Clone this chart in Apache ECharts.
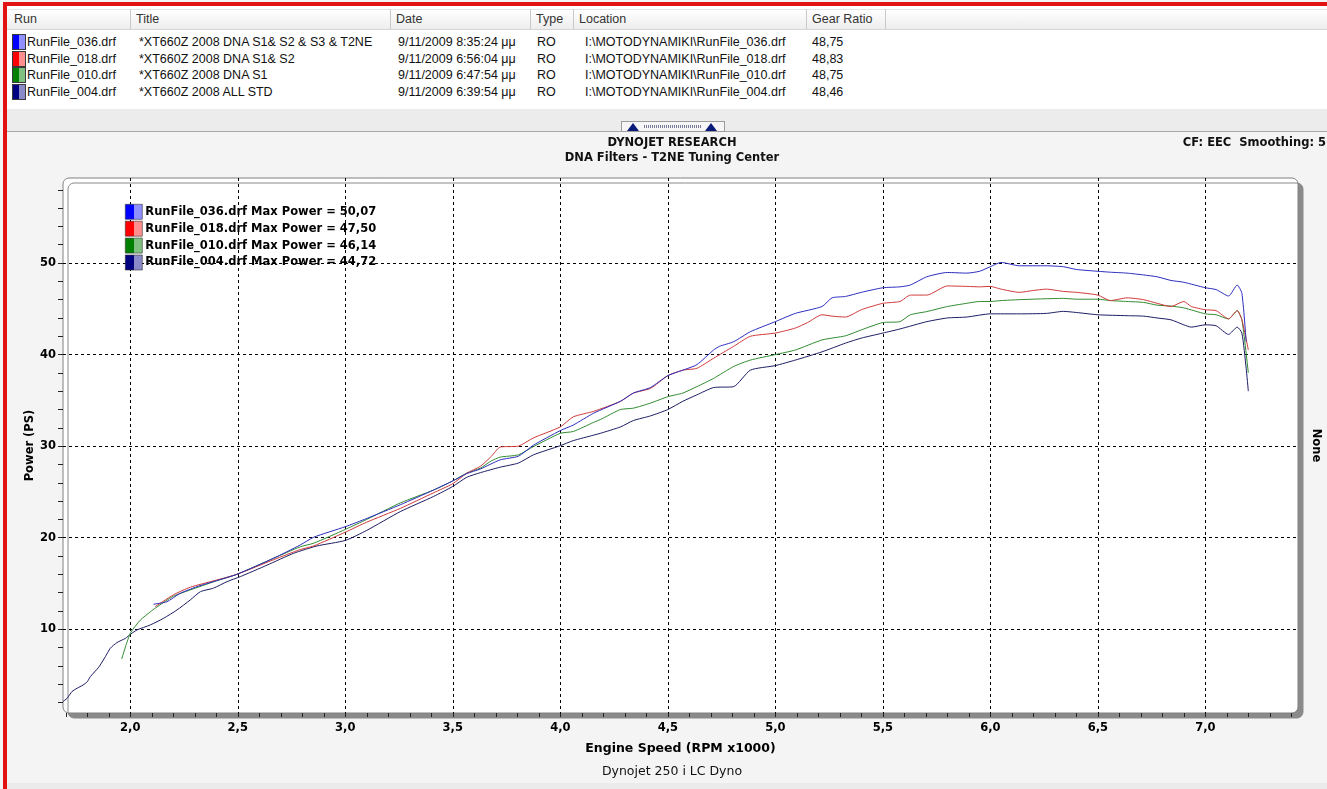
<!DOCTYPE html>
<html><head><meta charset="utf-8">
<script src="https://cdn.jsdelivr.net/npm/echarts@6/dist/echarts.min.js"></script>
<style>
html,body{margin:0;padding:0;width:1327px;height:789px;overflow:hidden;background:#f4f4f4;font-family:"Liberation Sans",Arial,sans-serif;}
.abs{position:absolute;}
#redtop{left:3px;top:2px;width:1324px;height:4px;background:#e31212;}
#redleft{left:3px;top:2px;width:4px;height:787px;background:#e31212;}
#tablebg{left:7px;top:6px;width:1320px;height:103px;background:#fff;}
#hdr{left:7px;top:9px;width:1320px;height:19px;background:linear-gradient(#ffffff,#ededed);border-bottom:1px solid #d6d6d6;border-top:1px solid #e4e4e4;}
.hc{top:9px;height:20px;border-right:1px solid #c9c9c9;font-size:12.5px;line-height:20px;color:#333;padding-left:5px;box-sizing:border-box;}
.cell{font-size:12.5px;line-height:16px;height:16px;color:#111;white-space:nowrap;}
.sw{width:12px;height:14px;border:1px solid #3a3a3a;}
#band{left:7px;top:109px;width:1320px;height:22px;background:#ececec;}
#bline{left:7px;top:131px;width:1320px;height:1px;background:#a9a9a9;}
#btn{left:621px;top:121px;width:102px;height:9px;background:#f6f6f6;border:1px solid #9c9c9c;}
.tri{width:0;height:0;border-left:6px solid transparent;border-right:6px solid transparent;border-bottom:8px solid #0a1a78;top:1px;}
#dots{left:22px;top:3px;width:58px;height:3px;background:repeating-linear-gradient(90deg,#7a7a9a 0 1px,transparent 1px 2px);}
#bottomstrip{left:7px;top:783px;width:1320px;height:6px;background:#ebebeb;}
#chart{left:0;top:0;width:1327px;height:789px;}
</style>
</head><body>
<div id="tablebg" class="abs"></div>
<div id="hdr" class="abs"></div>
<div id="headers"></div>
<div id="rows"></div>
<div id="band" class="abs"></div>
<div id="bline" class="abs"></div>
<div id="btn" class="abs"><div class="abs tri" style="left:5px"></div><div id="dots" class="abs"></div><div class="abs tri" style="left:83px"></div></div>
<div id="bottomstrip" class="abs"></div>
<div id="redtop" class="abs"></div>
<div id="redleft" class="abs"></div>
<div id="chart" class="abs"></div>
<script>
// ---- table content ----
var colHeaders = ['Run','Title','Date','Type','Location','Gear Ratio'];
var runNames = ['RunFile_036.drf','RunFile_018.drf','RunFile_010.drf','RunFile_004.drf'];
var runTitles = ['*XT660Z 2008 DNA S1& S2 & S3 & T2NE','*XT660Z 2008 DNA S1& S2','*XT660Z 2008 DNA S1','*XT660Z 2008 ALL STD'];
var runDates = ['9/11/2009 8:35:24 μμ','9/11/2009 6:56:04 μμ','9/11/2009 6:47:54 μμ','9/11/2009 6:39:54 μμ'];
var runTypes = ['RO','RO','RO','RO'];
var runLocations = ['I:\\MOTODYNAMIKI\\RunFile_036.drf','I:\\MOTODYNAMIKI\\RunFile_018.drf','I:\\MOTODYNAMIKI\\RunFile_010.drf','I:\\MOTODYNAMIKI\\RunFile_004.drf'];
var gearRatios = ['48,75','48,83','48,75','48,46'];
var maxPower = [50.07, 47.50, 46.14, 44.72];

// ---- curve data (RPM x1000, PS) ----
var rpm036 = [2.108,2.17,2.23,2.31,2.40,2.496,2.667,2.79,2.853,3.0,3.1,3.256,3.41,3.5,3.565,3.628,3.72,3.805,3.875,4.0,4.06,4.155,4.28,4.34,4.419,4.5,4.57,4.635,4.713,4.74,4.806,4.884,5.0,5.093,5.217,5.264,5.326,5.4,5.5,5.58,5.628,5.705,5.8,5.89,5.95,6.0,6.05,6.135,6.26,6.34,6.4,6.5,6.558,6.636,6.713,6.776,6.84,6.9,7.0,7.05,7.108,7.148,7.17,7.19];
var ps036  = [12.73,13.0,13.9,14.65,15.3,16.0,17.76,19.2,20.05,21.2,22.1,23.6,25.2,26.2,27.0,27.5,28.5,28.9,30.1,31.7,32.3,33.6,34.9,35.8,36.4,37.7,38.3,38.9,40.5,40.9,41.4,42.5,43.6,44.5,45.25,46.2,46.35,46.8,47.3,47.4,47.6,48.5,48.97,48.9,49.1,49.6,50.07,49.7,49.7,49.6,49.3,49.1,49.0,48.9,48.7,48.5,48.1,47.9,47.3,47.1,46.4,47.6,46.7,41.4];

var rpm018 = [2.116,2.2,2.28,2.39,2.496,2.667,2.79,2.853,3.0,3.1,3.256,3.41,3.5,3.565,3.628,3.68,3.72,3.805,3.875,4.0,4.06,4.155,4.28,4.34,4.419,4.5,4.57,4.635,4.713,4.806,4.884,5.0,5.093,5.15,5.217,5.264,5.326,5.4,5.5,5.58,5.628,5.705,5.8,5.89,5.95,6.0,6.05,6.135,6.2,6.26,6.34,6.4,6.5,6.558,6.636,6.713,6.776,6.84,6.9,6.935,7.0,7.05,7.108,7.148,7.17,7.2];
var ps018  = [12.47,13.75,14.6,15.3,16.0,17.6,18.7,19.1,20.6,21.7,23.2,24.9,25.9,27.05,27.8,28.9,29.9,30.0,30.9,32.1,33.2,33.8,34.9,35.8,36.3,37.7,38.3,38.5,39.6,40.9,42.0,42.35,42.9,43.5,44.35,44.2,44.1,44.9,45.6,45.8,46.5,46.5,47.5,47.45,47.4,47.45,47.15,46.8,47.0,47.15,46.9,46.8,46.5,45.9,46.2,46.0,45.6,45.25,45.8,45.25,44.9,44.8,43.9,44.8,43.8,40.5];

var rpm010 = [1.96,2.0,2.047,2.093,2.116,2.2,2.28,2.39,2.496,2.667,2.79,2.853,3.0,3.1,3.256,3.41,3.5,3.565,3.628,3.68,3.72,3.805,3.875,4.0,4.06,4.155,4.186,4.28,4.34,4.419,4.5,4.57,4.635,4.713,4.806,4.884,5.0,5.093,5.217,5.326,5.4,5.5,5.58,5.628,5.705,5.8,5.89,5.95,6.0,6.05,6.135,6.26,6.34,6.4,6.5,6.558,6.636,6.713,6.776,6.84,6.9,7.0,7.05,7.108,7.148,7.17,7.2];
var ps010  = [6.75,9.56,11.0,11.9,12.3,13.6,14.3,15.2,16.0,17.76,19.0,19.4,20.9,22.0,23.8,25.2,26.2,27.05,27.6,28.4,28.8,29.05,29.95,31.4,31.6,32.6,32.9,34.0,34.15,34.7,35.4,35.8,36.5,37.4,38.7,39.4,40.0,40.5,41.6,42.05,42.7,43.5,43.6,44.35,44.7,45.25,45.6,45.8,45.8,45.9,46.0,46.1,46.14,46.05,46.05,45.9,45.8,45.7,45.4,45.3,45.1,44.45,44.35,43.9,44.8,43.8,38.0];

var rpm004 = [1.687,1.706,1.729,1.752,1.78,1.80,1.814,1.853,1.884,1.907,1.938,1.977,2.003,2.031,2.093,2.155,2.217,2.279,2.326,2.388,2.45,2.512,2.636,2.76,2.869,3.0,3.1,3.256,3.41,3.5,3.565,3.628,3.72,3.805,3.875,4.0,4.06,4.155,4.186,4.28,4.34,4.419,4.5,4.57,4.635,4.713,4.806,4.884,5.0,5.093,5.217,5.326,5.4,5.5,5.58,5.705,5.8,5.89,6.0,6.135,6.26,6.34,6.4,6.5,6.636,6.713,6.776,6.84,6.9,6.935,7.0,7.05,7.108,7.148,7.17,7.19,7.2];
var ps004  = [2.1,2.46,3.2,3.55,3.9,4.27,4.82,5.85,7.0,7.92,8.54,9.0,9.49,9.92,10.47,11.2,12.1,13.2,14.1,14.5,15.2,15.75,17.0,18.3,19.1,19.7,20.8,22.85,24.5,25.6,26.6,27.1,27.7,28.15,29.05,30.05,30.6,31.2,31.4,32.1,32.8,33.3,34.0,34.9,35.6,36.4,36.5,38.3,38.8,39.4,40.3,41.25,41.8,42.35,42.8,43.6,44.0,44.1,44.45,44.45,44.5,44.72,44.6,44.35,44.25,44.2,44.0,43.8,43.25,43.0,43.25,43.15,42.2,43.0,42.35,38.5,36.0];

// ---- axis ticks ----
var xLabelValues = [2.0,2.5,3.0,3.5,4.0,4.5,5.0,5.5,6.0,6.5,7.0];
var xMinorTicks = [1.7,1.8,1.9,2.0,2.1,2.2,2.3,2.4,2.5,2.6,2.7,2.8,2.9,3.0,3.1,3.2,3.3,3.4,3.5,3.6,3.7,3.8,3.9,4.0,4.1,4.2,4.3,4.4,4.5,4.6,4.7,4.8,4.9,5.0,5.1,5.2,5.3,5.4,5.5,5.6,5.7,5.8,5.9,6.0,6.1,6.2,6.3,6.4,6.5,6.6,6.7,6.8,6.9,7.0,7.1,7.2,7.3,7.4];
var yLabelValues = [10,20,30,40,50];
var yMinorTicks = [2,4,6,8,10,12,14,16,18,20,22,24,26,28,30,32,34,36,38,40,42,44,46,48,50,52,54,56,58];

// ---- build table ----
var colLeft = [9,131,391,531,574,807];
var colRight = [131,391,531,574,807,886];
var hh = '';
for (var i=0;i<colHeaders.length;i++){
  hh += '<div class="abs hc" style="left:'+colLeft[i]+'px;width:'+(colRight[i]-colLeft[i])+'px">'+colHeaders[i]+'</div>';
}
document.getElementById('headers').innerHTML = hh;
var swatchDark = ['#0000ff','#ff0000','#008000','#000080'];
var swatchLight = ['#8f8fff','#ff8f8f','#80c080','#8a8ac8'];
var rowCenters = [42,58.5,75,91.5];
var rh = '';
function esc(s){return s.replace(/&/g,'&amp;').replace(/</g,'&lt;');}
var cellLefts = [27,139,398,537,585,812];
for (var r=0;r<4;r++){
  var rowTop = rowCenters[r]-8;
  rh += '<div class="abs sw" style="left:12px;top:'+rowTop+'px;background:linear-gradient(90deg,'+swatchDark[r]+' 0 50%,'+swatchLight[r]+' 50% 100%)"></div>';
  var vals = [runNames[r],runTitles[r],runDates[r],runTypes[r],runLocations[r],gearRatios[r]];
  for (var c=0;c<vals.length;c++){
    rh += '<div class="abs cell" style="left:'+cellLefts[c]+'px;top:'+rowTop+'px">'+esc(vals[c])+'</div>';
  }
}
document.getElementById('rows').innerHTML = rh;

// ---- chart ----
function zip(a,b){var o=[];for(var i=0;i<a.length;i++)o.push([a[i],b[i]]);return o;}
var lineColors = ['#2c2cc0','#d03a3a','#2f8c2f','#1c1c64'];
var seriesX = [rpm036,rpm018,rpm010,rpm004];
var seriesY = [ps036,ps018,ps010,ps004];
var font = '"DejaVu Sans", Verdana, sans-serif';
function grad(d,l){
  return new echarts.graphic.LinearGradient(0,0,1,0,[{offset:0,color:d},{offset:0.5,color:d},{offset:0.5,color:l},{offset:1,color:l}]);
}
var series = [];
var legendData = [];
for (var s=0;s<4;s++){
  series.push({
    name: runNames[s], type:'line', xAxisIndex:0, yAxisIndex:0,
    data: zip(seriesX[s],seriesY[s]), showSymbol:false, symbol:'none', smooth:0.2,
    lineStyle:{color:lineColors[s],width:1}, itemStyle:{color:lineColors[s]}, z: 5-s
  });
  legendData.push({name:runNames[s], icon:'rect', itemStyle:{color:grad(swatchDark[s],swatchLight[s]), borderColor:'#333', borderWidth:0.6}});
}
var GL=63, GT=178, GR=1298, GB=713;
var chart = echarts.init(document.getElementById('chart'), null, {renderer:'canvas'});
chart.setOption({
  backgroundColor:'transparent',
  animation:false,
  grid:{left:GL, top:GT, width:GR-GL, height:GB-GT, show:false, containLabel:false, outerBoundsMode:'none'},
  graphic:[
    {type:'rect', z:-10, shape:{x:GL, y:GT, width:GR-GL, height:GB-GT, r:6},
     style:{fill:'#ffffff', stroke:'#808080', lineWidth:1, shadowColor:'#8a8a8a', shadowOffsetX:5, shadowOffsetY:5, shadowBlur:0}},
    {type:'text', x:672, y:143, style:{text:'DYNOJET RESEARCH', font:'bold 11.5px '+font, fill:'#111', align:'center', verticalAlign:'middle', textAlign:'center', textVerticalAlign:'middle'}},
    {type:'text', x:672, y:158, style:{text:'DNA Filters - T2NE Tuning Center', font:'bold 11.5px '+font, fill:'#111', align:'center', verticalAlign:'middle', textAlign:'center', textVerticalAlign:'middle'}},
    {type:'text', x:1326, y:143, style:{text:'CF: EEC  Smoothing: 5', font:'bold 11.5px '+font, fill:'#111', align:'right', verticalAlign:'middle', textAlign:'right', textVerticalAlign:'middle'}},
    {type:'text', x:672, y:772, style:{text:'Dynojet 250 i LC Dyno', font:'12.5px '+font, fill:'#111', align:'center', verticalAlign:'middle', textAlign:'center', textVerticalAlign:'middle'}}
  ],
  legend:{
    show:true, orient:'vertical', left:125, top:204, padding:0,
    itemWidth:17, itemHeight:15, itemGap:1.3, selectedMode:false,
    data:legendData,
    formatter:function(n){var i=runNames.indexOf(n);return n+' Max Power = '+maxPower[i].toFixed(2).replace('.',',');},
    textStyle:{color:'#000', fontWeight:'bold', fontSize:11.5, fontFamily:font, padding:[0,0,0,-2]}
  },
  xAxis:[
    {type:'value', gridIndex:0, position:'bottom', min:1.687, max:7.431,
     name:'Engine Speed (RPM x1000)', nameLocation:'middle', nameGap:29, nameMoveOverlap:false,
     nameTextStyle:{color:'#000', fontWeight:'bold', fontSize:12.5, fontFamily:font},
     axisLine:{show:false},
     axisTick:{show:true, customValues:xMinorTicks, length:4, inside:false, lineStyle:{color:'#222', width:1}},
     axisLabel:{show:true, customValues:xLabelValues, margin:9, color:'#000', fontWeight:'bold', fontSize:11.5, fontFamily:font,
       formatter:function(v){return v.toFixed(1).replace('.',',');}},
     splitLine:{show:false}},
    {type:'value', gridIndex:0, position:'top', min:1.687, max:7.431,
     axisLine:{show:false}, axisLabel:{show:false},
     axisTick:{show:false, customValues:xLabelValues},
     splitLine:{show:true, lineStyle:{color:'#000', width:1, type:[3,3]}}}
  ],
  yAxis:[
    {type:'value', gridIndex:0, position:'left', min:0.85, max:59.29,
     name:'Power (PS)', nameLocation:'middle', nameGap:27, nameRotate:90, nameMoveOverlap:false,
     nameTextStyle:{color:'#000', fontWeight:'bold', fontSize:11.5, fontFamily:font},
     axisLine:{show:false},
     axisTick:{show:true, customValues:yMinorTicks, length:5, lineStyle:{color:'#222', width:1}},
     axisLabel:{show:true, customValues:yLabelValues, margin:7, color:'#000', fontWeight:'bold', fontSize:11.5, fontFamily:font},
     splitLine:{show:false}},
    {type:'value', gridIndex:0, position:'right', min:0.85, max:59.29,
     name:'None', nameLocation:'middle', nameGap:12, nameRotate:-90, nameMoveOverlap:false,
     nameTextStyle:{color:'#000', fontWeight:'bold', fontSize:11.5, fontFamily:font},
     axisLine:{show:false}, axisLabel:{show:false},
     axisTick:{show:false, customValues:yLabelValues},
     splitLine:{show:true, lineStyle:{color:'#000', width:1, type:[3,3]}}}
  ],
  series:series
});
</script>
</body></html>
